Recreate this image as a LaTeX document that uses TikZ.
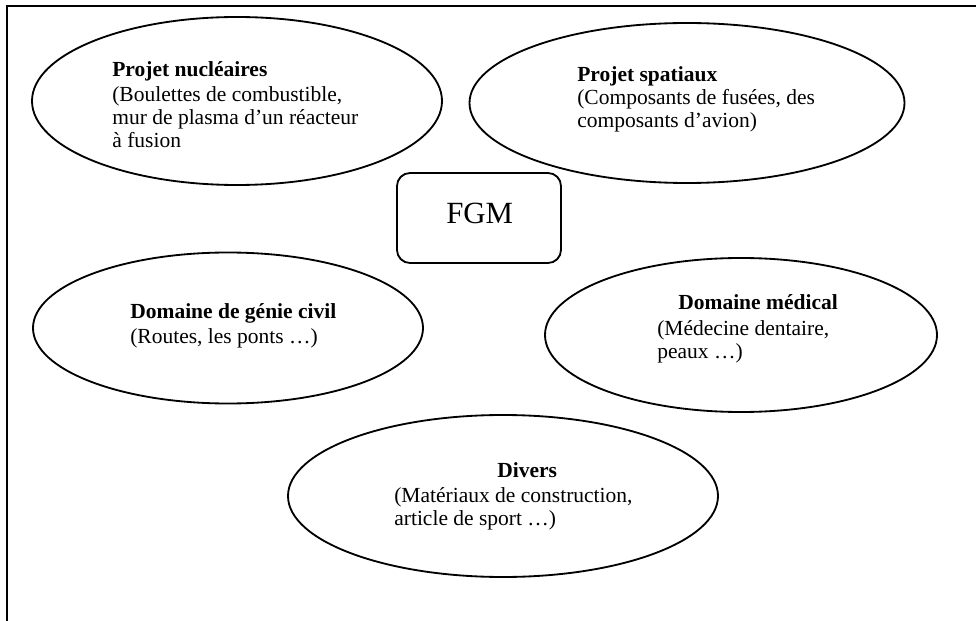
\documentclass[tikz,border=0pt]{standalone}
\usepackage{fontspec}
\setmainfont{Liberation Serif}
\usetikzlibrary{shapes.geometric}
\begin{document}
\begin{tikzpicture}[x=0.6pt,y=-0.6pt,
  bubble/.style={draw,ellipse,line width=1.1pt,inner sep=0pt},
  txt/.style={anchor=base west,inner sep=0pt,font=\fontsize{12.9}{15}\selectfont},
  ttl/.style={txt,font=\fontsize{12.9}{15}\selectfont\bfseries},
  frame/.style={line width=1.3pt}]
\useasboundingbox (0,0) rectangle (976,621);
\draw[frame] (7,621) -- (7,6) -- (976,6);
% ellipses
\node[bubble,minimum width=410*0.6pt,minimum height=168*0.6pt] (e1) at (237,101) {};
\node[bubble,minimum width=435*0.6pt,minimum height=160*0.6pt] (e2) at (687,103) {};
\node[bubble,minimum width=390*0.6pt,minimum height=151*0.6pt] (e3) at (228,328) {};
\node[bubble,minimum width=392*0.6pt,minimum height=154*0.6pt] (e4) at (741,335) {};
\node[bubble,minimum width=430*0.6pt,minimum height=162*0.6pt] (e5) at (503,496) {};
% FGM box
\node[draw,rounded corners=7.8pt,line width=1.1pt,minimum width=164*0.6pt,minimum height=90*0.6pt,inner sep=0pt] (fgm) at (479,218) {};
\node[anchor=base west,inner sep=0pt,font=\fontsize{18.5}{22}\selectfont] (fgmt) at (446,224) {FGM};
% texts
\node[ttl] (t1a) at (112,77) {Projet nucléaires};
\node[txt] (t1b) at (112,102) {(Boulettes de combustible,};
\node[txt] (t1c) at (112,125) {mur de plasma d’un réacteur};
\node[txt] (t1d) at (112,148) {à fusion};
\node[ttl] (t2a) at (577,82) {Projet spatiaux};
\node[txt] (t2b) at (577,105) {(Composants de fusées, des};
\node[txt] (t2c) at (577,128) {composants d’avion)};
\node[ttl] (t3a) at (130,318) {Domaine de génie civil};
\node[txt] (t3b) at (130,343) {(Routes, les ponts …)};
\node[ttl] (t4a) at (678,310) {Domaine médical};
\node[txt] (t4b) at (657,335) {(Médecine dentaire,};
\node[txt] (t4c) at (657,359) {peaux …)};
\node[ttl] (t5a) at (497,477) {Divers};
\node[txt] (t5b) at (394,502) {(Matériaux de construction,};
\node[txt] (t5c) at (394,525) {article de sport …)};
\end{tikzpicture}
\end{document}
